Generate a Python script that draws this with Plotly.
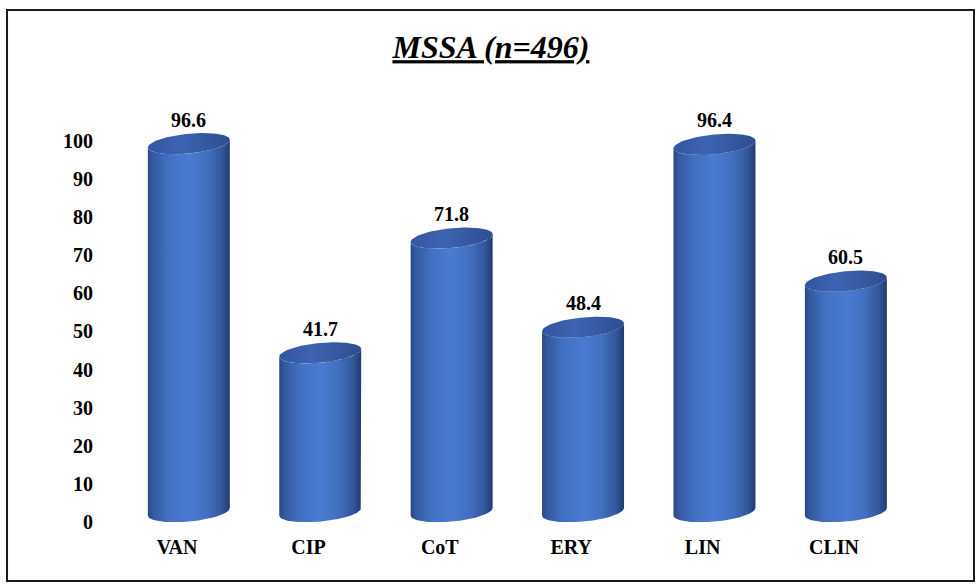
import numpy as np
import plotly.graph_objects as go

# Resistance rates (%) for MSSA isolates
categories = ["VAN", "CIP", "CoT", "ERY", "LIN", "CLIN"]
values = [96.6, 41.7, 71.8, 48.4, 96.4, 60.5]
y_ticks = [0, 10, 20, 30, 40, 50, 60, 70, 80, 90, 100]

FONT = "Liberation Serif"

# cylinder geometry (axis units)
HALF_W = 0.312      # half width of a cylinder
ELL_B = 2.6         # vertical semi-axis of the end ellipses
ELL_T = 1.0         # slant of the end ellipses (left side lower)
DX, DY = 0.09, 2.7  # depth offset of the 3D bars from the axis

body_scale = [[0.0, "#2a4781"], [0.06, "#33599f"], [0.25, "#4270c2"],
              [0.5, "#4a7bd2"], [0.72, "#4270c0"], [0.9, "#33589c"],
              [1.0, "#223b6e"]]
top_scale = [[0.0, "#3355a0"], [0.4, "#3d64b2"], [1.0, "#2e4d8f"]]


def ellipse(cx, cy, theta):
    return (cx + HALF_W * np.cos(theta),
            cy + ELL_B * np.sin(theta) + ELL_T * np.cos(theta))


fig = go.Figure()

for i, v in enumerate(values):
    cx = i + DX
    y0 = DY
    y1 = v + DY
    # body: front arc of top ellipse, right side, front arc of bottom ellipse
    th_top = np.linspace(np.pi, 2 * np.pi, 60)
    th_bot = np.linspace(2 * np.pi, np.pi, 60)
    tx, ty = ellipse(cx, y1, th_top)
    bx, by = ellipse(cx, y0, th_bot)
    xs = np.concatenate([tx, bx, tx[:1]])
    ys = np.concatenate([ty, by, ty[:1]])
    fig.add_trace(go.Scatter(
        x=xs, y=ys, mode="lines", fill="toself",
        line=dict(width=0, color="rgba(0,0,0,0)"),
        fillgradient=dict(type="horizontal", colorscale=body_scale),
        hoverinfo="skip", showlegend=False))
    # top cap
    th = np.linspace(0, 2 * np.pi, 120)
    ex, ey = ellipse(cx, y1, th)
    fig.add_trace(go.Scatter(
        x=ex, y=ey, mode="lines", fill="toself",
        line=dict(width=0, color="rgba(0,0,0,0)"),
        fillgradient=dict(type="horizontal", colorscale=top_scale),
        hoverinfo="skip", showlegend=False))
    # value label
    fig.add_annotation(
        x=cx, y=y1, text=f"<b>{v}</b>", showarrow=False,
        yanchor="bottom", yshift=11,
        font=dict(family=FONT, size=20, color="#000000"))

# outer frame
fig.add_shape(type="rect", xref="paper", yref="paper",
              x0=-0.1155, x1=1.0857, y0=-0.1335, y1=1.1584,
              line=dict(color="#1a1a1a", width=2), fillcolor="rgba(0,0,0,0)",
              layer="below")

fig.update_layout(
    width=976, height=584,
    margin=dict(l=100, r=71, t=80, b=62),
    paper_bgcolor="white", plot_bgcolor="white",
    title=dict(
        text="MSSA (n=496)",
        x=0.503, xref="container", xanchor="center",
        y=1 - 47 / 584, yref="container", yanchor="middle",
        font=dict(family=FONT, size=32, color="#000000",
                  weight="bold", style="italic", lineposition="under")),
    xaxis=dict(
        range=[-0.586, 5.54],
        tickmode="array", tickvals=list(range(len(categories))),
        ticktext=[f"<b>{c}</b>" for c in categories],
        showgrid=False, zeroline=False, showline=False,
        ticks="", ticklabelstandoff=11,
        tickfont=dict(family=FONT, size=20, color="#000000"),
        fixedrange=True),
    yaxis=dict(
        range=[0, 116.0],
        tickmode="array", tickvals=y_ticks,
        ticktext=[f"<b>{t}</b>" for t in y_ticks],
        showgrid=False, zeroline=False, showline=False,
        ticks="", ticklabelstandoff=6,
        tickfont=dict(family=FONT, size=20, color="#000000"),
        fixedrange=True),
)

fig.write_html("out.html")
